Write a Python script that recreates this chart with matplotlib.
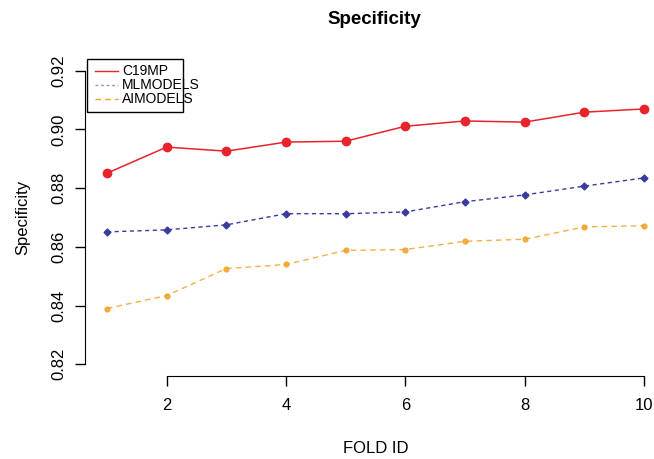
import matplotlib
matplotlib.use("Agg")
import matplotlib.pyplot as plt
from matplotlib.patches import Rectangle
from matplotlib.lines import Line2D

# data
fold_id = [1, 2, 3, 4, 5, 6, 7, 8, 9, 10]
c19mp = [0.8851, 0.8940, 0.8926, 0.8957, 0.8960, 0.9011, 0.9029, 0.9025, 0.9059, 0.9070]
mlmodels = [0.8651, 0.8658, 0.8675, 0.8713, 0.8713, 0.8719, 0.8754, 0.8777, 0.8807, 0.8835]
aimodels = [0.8390, 0.8434, 0.8526, 0.8540, 0.8588, 0.8591, 0.8619, 0.8626, 0.8668, 0.8672]
series_names = ["C19MP", "MLMODELS", "AIMODELS"]
x_ticks = [2, 4, 6, 8, 10]
y_ticks = [0.82, 0.84, 0.86, 0.88, 0.90, 0.92]

plt.rcParams['font.family'] = ['Liberation Sans', 'DejaVu Sans']

fig = plt.figure(figsize=(6.54, 4.59), dpi=100)
# R style plot region, right side runs past the image edge
ax = fig.add_axes([0.1307, 0.1808, 0.8869, 0.6906])

red, blue, orange = "#e8232b", "#3b3b9e", "#f0a328"
ax.plot(fold_id, c19mp, color=red, lw=1.1, ls="-", marker="o", ms=6)
ax.plot(fold_id, mlmodels, color=blue, lw=1.0, ls=(0, (3, 2.5)), marker="D", ms=3.5)
ax.plot(fold_id, aimodels, color=orange, lw=1.0, ls=(0, (4, 3)), marker="o", ms=3.5,
        alpha=0.85)

ax.set_xlim(0.64, 10.36)
ax.set_ylim(0.816, 0.924)

for s in ["top", "right"]:
    ax.spines[s].set_visible(False)
ax.spines["left"].set_bounds(0.82, 0.92)
ax.spines["bottom"].set_bounds(2, 10)

ax.set_xticks(x_ticks)
ax.set_yticks(y_ticks)
ax.set_yticklabels(["%.2f" % v for v in y_ticks], rotation=90, va="center")
ax.tick_params(axis="both", direction="out", length=7, width=1.0, labelsize=12, pad=7)
ax.tick_params(axis="x", pad=9)

ax.set_xlabel("FOLD ID", fontsize=12, labelpad=20)
ax.set_ylabel("Specificity", fontsize=12, labelpad=15)
fig.text(0.573, 0.958, "Specificity", ha="center", va="center", fontsize=13.5,
         fontweight="bold")

# R style legend box, text runs over the right border like the original
ax.add_patch(Rectangle((0.0026, 0.833), 0.165, 0.167, transform=ax.transAxes,
                       fill=False, edgecolor="black", lw=1.0, clip_on=False))
leg_rows = [0.962, 0.918, 0.874]
leg_styles = [(red, "-"), ("#9a8fd8", (0, (2, 2))), (orange, (0, (4, 3)))]
for name, yy, (col, st) in zip(series_names, leg_rows, leg_styles):
    ax.add_line(Line2D([0.016, 0.056], [yy, yy], transform=ax.transAxes, color=col,
                       ls=st, lw=1.0, clip_on=False))
    ax.text(0.063, yy, name, transform=ax.transAxes, fontsize=10, va="center", ha="left")

fig.savefig("out.png", dpi=100)
